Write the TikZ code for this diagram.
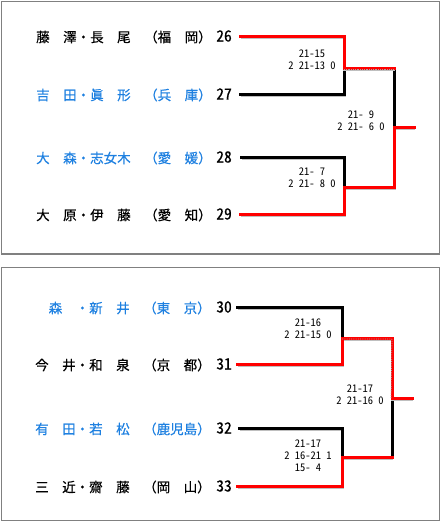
\documentclass[tikz,border=0pt]{standalone}
\usepackage{fontspec}
\setmainfont{Noto Sans CJK JP}
\newfontfamily\jpfont[FakeBold=0.6]{Noto Sans CJK JP}
\newfontfamily\seedfont[RawFeature=+hwid,FakeBold=0.6]{Noto Sans CJK JP}
\newfontfamily\numfont[RawFeature=+hwid]{Noto Sans CJK JP}
\definecolor{entryblue}{RGB}{30,128,224}
\definecolor{framegray}{RGB}{128,128,128}
\tikzset{
  lost/.style={line width=3pt, black, line cap=rect,
    preaction={draw=black!25, line width=3pt, transform canvas={xshift=0.7pt,yshift=-1pt}}},
  won/.style={line width=3pt, red, line cap=rect,
    preaction={draw=black!25, line width=3pt, transform canvas={xshift=0.7pt,yshift=-1pt}}},
  dots/.style={draw=black!35, densely dotted, line width=0.8pt},
  player/.style={anchor=west, inner sep=0pt, font=\jpfont\fontsize{13.5}{14}\selectfont},
  seed/.style={anchor=east, inner sep=0pt, font=\seedfont\fontsize{15.5}{16}\selectfont},
  score/.style={align=center, inner sep=0pt, font=\numfont\fontsize{10.5}{12}\selectfont},
  panel/.style={draw=framegray, line width=1.5pt}
}
\begin{document}
\begin{tikzpicture}[x=1pt,y=-1pt]
\useasboundingbox (0,0) rectangle (441,522);
\draw[panel] (1.5,1.5) rectangle (439.5,254);
\draw[panel] (1.5,267.5) rectangle (439.5,520.5);
% entries: seed / line y / name x / line x / name / colour
\foreach \sd/\ly/\nx/\ex/\nm/\nc in {
  26/36/36/240/藤　澤・長　尾　（福　岡）/black,
  27/94/36/240/吉　田・眞　形　（兵　庫）/entryblue,
  28/157/36/241/大　森・志女木　（愛　媛）/entryblue,
  29/214/36/240/大　原・伊　藤　（愛　知）/black,
  30/307/35/237/　森　・新　井　（東　京）/entryblue,
  31/364/35/237/今　井・和　泉　（京　都）/black,
  32/428/35/239/有　田・若　松　（鹿児島）/entryblue,
  33/486/35/237/三　近・齋　藤　（岡　山）/black}
{
  \node[player, text=\nc] (name\sd) at (\nx,\ly+1) {\nm};
  \node[seed] (seed\sd) at (232,\ly) {\sd};
  \coordinate (e\sd) at (\ex,\ly);
}
% upper block
\coordinate (m26) at (344,68);
\coordinate (m28) at (344,187);
\coordinate (f26) at (394,127);
\coordinate (w26) at (414,127);
\draw[lost] (e27) -| (m26);
\draw[lost] (e28) -| (m28);
\draw[lost] (m26 -| f26) -- (f26);
\draw[won] (e26) -| (m26) -- (m26 -| f26);
\draw[won] (e29) -| (m28) -| (f26) -- (w26);
\draw[dots] ([yshift=-1pt]m26) -- ([yshift=-1pt]m26 -| f26);
\node[score] (s26) at (312,60) {21-15\\2 21-13 0};
\node[score] (s28) at (312,178) {21- 7\\2 21- 8 0};
\node[score] (sf1) at (361,121) {21- 9\\2 21- 6 0};
% lower block
\coordinate (m30) at (342,338);
\coordinate (m32) at (342,457);
\coordinate (f30) at (392,398);
\coordinate (w30) at (412,398);
\draw[lost] (e30) -| (m30);
\draw[lost] (e32) -| (m32);
\draw[lost] (f30) -- (f30 |- m32);
\draw[won] (e33) -| (m32) -- (m32 -| f30);
\draw[won] (e31) -| (m30) -| (f30) -- (w30);
\draw[dots] ([yshift=-1pt]m30) -- ([yshift=-1pt]m30 -| f30) -- ([xshift=-1pt]f30);
\node[score] (s30) at (308,329) {21-16\\2 21-15 0};
\node[score] (s32) at (308,456) {21-17\\2 16-21 1\\15- 4};
\node[score] (sf2) at (360,395) {21-17\\2 21-16 0};
\end{tikzpicture}
\end{document}
